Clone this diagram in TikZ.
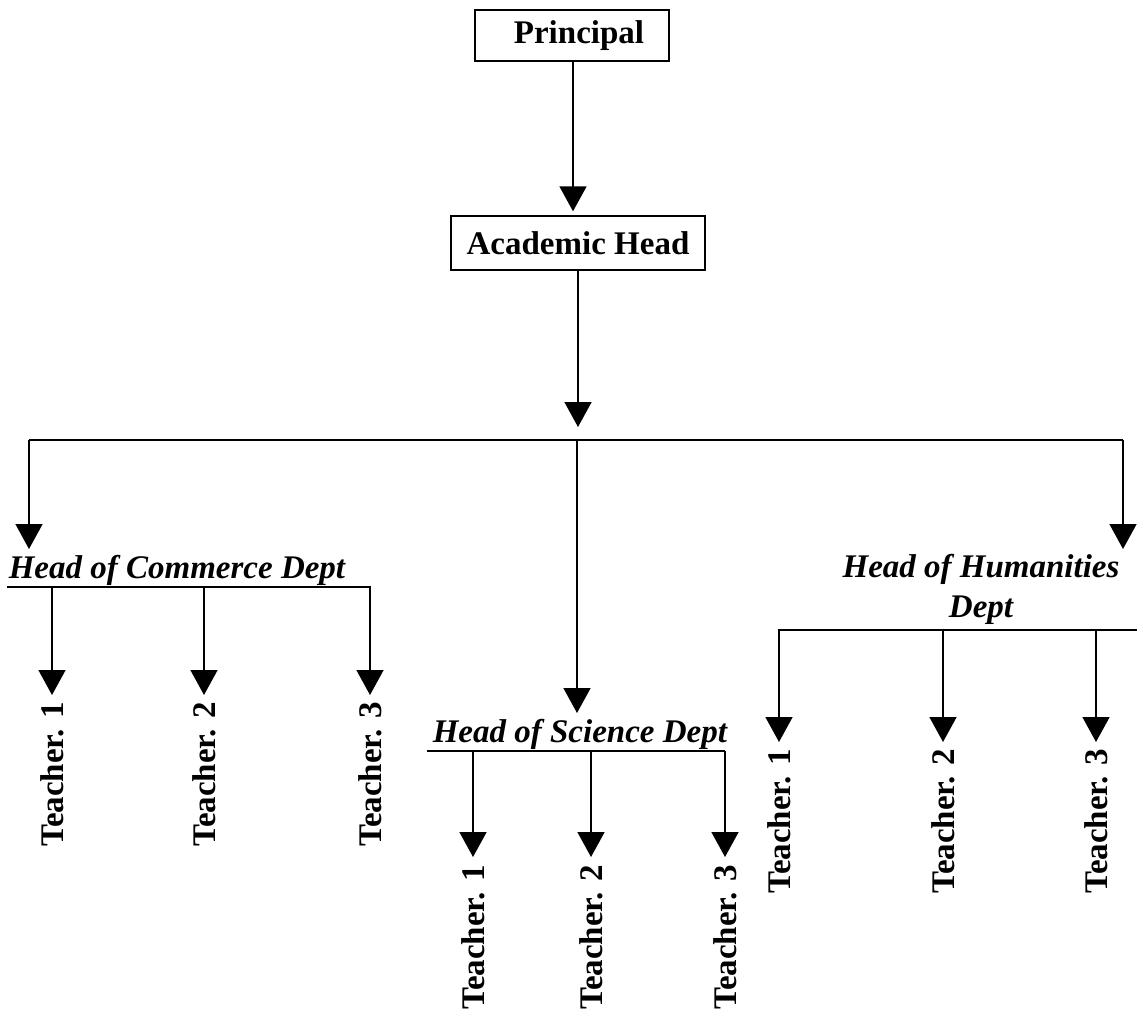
\documentclass[tikz,border=0pt]{standalone}
\usepackage{fontspec}
\setmainfont{Liberation Serif}
\usetikzlibrary{arrows.meta}
\begin{document}
\begin{tikzpicture}[x=1pt,y=-1pt,
  line width=1.6pt,
  arr/.style={-{Triangle[width=27pt,length=25pt]}},
  box/.style={draw, line width=1.4pt, inner sep=0pt, font=\fontsize{33}{40}\selectfont\bfseries},
  head/.style={inner sep=0pt, font=\fontsize{33}{40}\selectfont\bfseries\itshape},
  teacher/.style={inner sep=0pt, rotate=90, anchor=east, font=\fontsize{33}{38}\selectfont\bfseries}]
\useasboundingbox (0,0) rectangle (1137,1014);

% top of the hierarchy
\node[box, minimum width=194pt, minimum height=51pt] (principal) at (572,35.5) {\hspace*{14pt}Principal};
\node[box, minimum width=254pt, minimum height=54pt] (academic) at (578,243) {Academic Head};
\draw[arr, shorten >=4pt] ([xshift=1pt]principal.south) -- ([xshift=1pt]principal.south |- academic.north);

% distribution bus
\coordinate (busL) at (29,440);
\coordinate (busR) at (1123,440);
\coordinate (busC) at (577,440);
\draw[arr] (academic.south) -- (academic.south |- 0,427);
\draw (busL) -- (busR);

% department heads
\node[head, anchor=base west] (commerce) at (8,578) {Head of Commerce Dept};
\node[head, anchor=base west] (science) at (432,742) {Head of Science Dept};
\node[head, align=center, anchor=south] (humanities) at (981,625) {Head of Humanities\\Dept};
\draw[arr] (busL) -- (29,549);
\draw[arr] (busC) -- (577,713);
\draw[arr] (busR) -- (1123,549);

% department bars
\coordinate (cbarL) at (7,587);   \coordinate (cbarR) at (371,587);
\coordinate (sbarL) at (427,751); \coordinate (sbarR) at (725,751);
\coordinate (hbarL) at (778,630); \coordinate (hbarR) at (1137,630);
\draw (cbarL) -- (cbarR);
\draw (sbarL) -- (sbarR);
\draw (hbarL) -- (hbarR);

% teachers
\node[teacher] (c1) at (52,701)  {Teacher. 1};
\node[teacher] (c2) at (204,701) {Teacher. 2};
\node[teacher] (c3) at (370,701) {Teacher. 3};
\node[teacher] (s1) at (473,864) {Teacher. 1};
\node[teacher] (s2) at (591,864) {Teacher. 2};
\node[teacher] (s3) at (725,864) {Teacher. 3};
\node[teacher] (h1) at (779,748) {Teacher. 1};
\node[teacher] (h2) at (943,748) {Teacher. 2};
\node[teacher] (h3) at (1096,748) {Teacher. 3};

\foreach \t in {c1,c2,c3}
  \draw[arr, shorten >=6pt] (\t.east |- cbarR) -- (\t.east);
\foreach \t in {s1,s2,s3}
  \draw[arr, shorten >=7pt] (\t.east |- sbarR) -- (\t.east);
\foreach \t in {h1,h2,h3}
  \draw[arr, shorten >=6pt] (\t.east |- hbarR) -- (\t.east);
\end{tikzpicture}
\end{document}
